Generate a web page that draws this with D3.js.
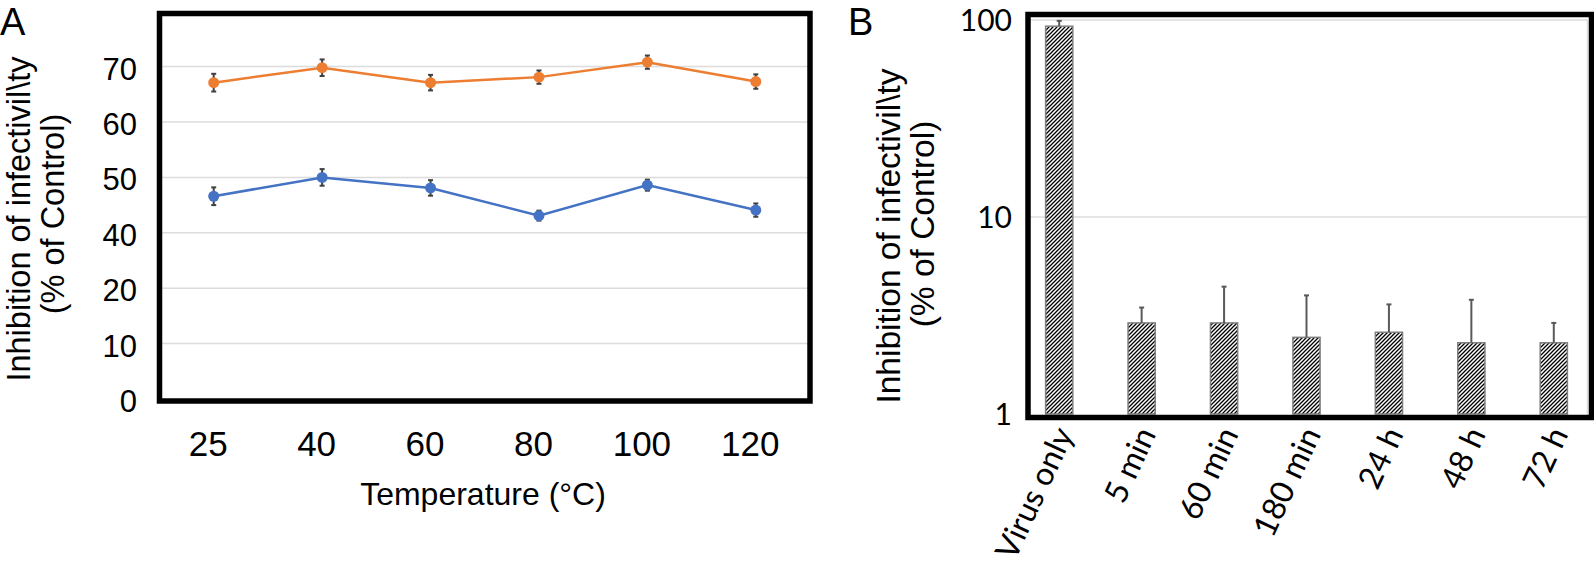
<!DOCTYPE html>
<html>
<head>
<meta charset="utf-8">
<script src="https://cdn.jsdelivr.net/npm/d3@7"></script>
<style>
  body { margin: 0; background: #fff; }
  svg { display: block; }
  text { fill: #000; }
</style>
</head>
<body>
<div id="chart"></div>
<script>
// panel A: inhibition vs temperature
var temps = ["25", "40", "60", "80", "100", "120"];
var orangeVals = [67.1, 69.8, 67.1, 68.1, 70.8, 67.3];
var orangeErr = [1.6, 1.5, 1.4, 1.2, 1.2, 1.3];
var blueVals = [46.6, 50.0, 48.1, 43.1, 48.6, 44.1];
var blueErr = [1.6, 1.5, 1.4, 0.9, 1.0, 1.2];
var yTicksA = [0, 10, 20, 40, 50, 60, 70];

// panel B: inhibition over time (log axis)
var times = ["Virus only", "5 min", "60 min", "180 min", "24 h", "48 h", "72 h"];
var timeVals = [93, 2.9, 2.9, 2.45, 2.6, 2.3, 2.3];
var timeErr = [6, 0.57, 1.53, 1.55, 1.0, 1.5, 0.6];
var yTicksB = [1, 10, 100];

var W = 1594, H = 575;
var svg = d3.select("#chart").append("svg").attr("width", W).attr("height", H);
svg.append("rect").attr("width", W).attr("height", H).attr("fill", "#fff");

var defs = svg.append("defs");
var pat = defs.append("pattern").attr("id", "hatch")
  .attr("patternUnits", "userSpaceOnUse").attr("width", 4).attr("height", 4);
pat.append("rect").attr("width", 4).attr("height", 4).attr("fill", "#fff");
pat.append("path").attr("d", "M-1,1 l2,-2 M0,4 l4,-4 M3,5 l2,-2")
  .attr("stroke", "#000").attr("stroke-width", 1.3);

var arial = "'Liberation Sans', Arial, sans-serif";
var lato = "Lato, 'Liberation Sans', sans-serif";

// ---------- panel A ----------
var A = {left: 159.5, top: 13.5, right: 810, bottom: 401};
var xA = d3.scalePoint().domain(temps).range([A.left, A.right]).padding(0.5);
// broken axis: the 30 step is skipped, each label is one even step apart
var yDomA = [0, 10, 20, 40, 50, 60, 70, 80];
var yA = d3.scaleLinear().domain(yDomA).range(yDomA.map(function (d, i) { return 399 - i * 55.4; }));

var gA = svg.append("g");
gA.selectAll(".gridA").data(yTicksA.filter(function (d) { return d > 0; })).enter()
  .append("line").attr("x1", A.left).attr("x2", A.right)
  .attr("y1", function (d) { return yA(d); }).attr("y2", function (d) { return yA(d); })
  .attr("stroke", "#dcdcdc").attr("stroke-width", 1.5);

var axYA = gA.append("g").attr("transform", "translate(" + 140 + ",0)")
  .call(d3.axisLeft(yA).tickValues(yTicksA).tickSize(0).tickPadding(3));
axYA.select(".domain").remove();
axYA.selectAll("text").attr("font-family", arial).attr("font-size", 31).attr("dy", "0.4em");

var axXA = gA.append("g").attr("transform", "translate(-6," + 423 + ")")
  .call(d3.axisBottom(xA).tickSize(0).tickPadding(0));
axXA.select(".domain").remove();
axXA.selectAll("text").attr("font-family", arial).attr("font-size", 35).attr("dy", "0.95em");

gA.append("text").attr("x", 483).attr("y", 505).attr("text-anchor", "middle")
  .attr("font-family", arial).attr("font-size", 32).text("Temperature (\u00B0C)");

gA.append("text").attr("transform", "translate(30,219) rotate(-90)").attr("text-anchor", "middle")
  .attr("font-family", arial).attr("font-size", 32.5).text("Inhibition of infectivil\\ty");
gA.append("text").attr("transform", "translate(64,214) rotate(-90)").attr("text-anchor", "middle")
  .attr("font-family", arial).attr("font-size", 32.5).text("(% of Control)");

gA.append("text").attr("x", 0).attr("y", 35).attr("font-family", arial).attr("font-size", 38).text("A");

function drawSeries(vals, errs, color) {
  var pts = temps.map(function (t, i) { return {t: t, v: vals[i], e: errs[i]}; });
  var line = d3.line().x(function (d) { return xA(d.t); }).y(function (d) { return yA(d.v); });
  gA.append("path").datum(pts).attr("d", line).attr("fill", "none")
    .attr("stroke", color).attr("stroke-width", 2.5);
  var eb = gA.selectAll(null).data(pts).enter().append("g").attr("stroke", "#404040").attr("stroke-width", 2);
  eb.append("line").attr("x1", function (d) { return xA(d.t); }).attr("x2", function (d) { return xA(d.t); })
    .attr("y1", function (d) { return yA(d.v + d.e); }).attr("y2", function (d) { return yA(d.v - d.e); });
  [1, -1].forEach(function (s) {
    eb.append("line").attr("x1", function (d) { return xA(d.t) - 2.5; }).attr("x2", function (d) { return xA(d.t) + 2.5; })
      .attr("y1", function (d) { return yA(d.v + s * d.e); }).attr("y2", function (d) { return yA(d.v + s * d.e); });
  });
  gA.selectAll(null).data(pts).enter().append("circle")
    .attr("cx", function (d) { return xA(d.t); }).attr("cy", function (d) { return yA(d.v); })
    .attr("r", 5.5).attr("fill", color);
}
drawSeries(orangeVals, orangeErr, "#ED7D31");
drawSeries(blueVals, blueErr, "#4472C4");

gA.append("rect").attr("x", A.left).attr("y", A.top).attr("width", A.right - A.left).attr("height", A.bottom - A.top)
  .attr("fill", "none").attr("stroke", "#000").attr("stroke-width", 5.5);

// ---------- panel B ----------
var B = {left: 1028, top: 14.5, right: 1591.5, bottom: 417.5};
var xB = d3.scaleBand().domain(times).range([1018, 1595]).paddingInner(0.67).paddingOuter(0.335);
var yB = d3.scaleLog().domain([1, 100]).range([414, 20]);

var gB = svg.append("g");
gB.selectAll(".gridB").data([10, 100]).enter().append("line")
  .attr("x1", B.left).attr("x2", B.right - 4)
  .attr("y1", function (d) { return yB(d); }).attr("y2", function (d) { return yB(d); })
  .attr("stroke", "#dcdcdc").attr("stroke-width", 1.5);
gB.append("line").attr("x1", B.right - 4).attr("x2", B.right - 4).attr("y1", yB(100)).attr("y2", B.bottom)
  .attr("stroke", "#dcdcdc").attr("stroke-width", 1.5);

var axYB = gB.append("g").attr("transform", "translate(1012,0)")
  .call(d3.axisLeft(yB).tickValues(yTicksB).tickFormat(d3.format("d")).tickSize(0).tickPadding(0));
axYB.select(".domain").remove();
axYB.selectAll("text").attr("font-family", lato).attr("font-size", 30).attr("dy", "0.35em");

gB.selectAll(".bar").data(times).enter().append("rect")
  .attr("x", function (d) { return xB(d); }).attr("width", xB.bandwidth())
  .attr("y", function (d, i) { return yB(timeVals[i]); })
  .attr("height", function (d, i) { return yB(1) - yB(timeVals[i]); })
  .attr("fill", "url(#hatch)").attr("stroke", "#808080").attr("stroke-width", 1.5);

var ebB = gB.selectAll(".errB").data(times).enter().append("g").attr("stroke", "#595959").attr("stroke-width", 2);
ebB.append("line")
  .attr("x1", function (d) { return xB(d) + xB.bandwidth() / 2; }).attr("x2", function (d) { return xB(d) + xB.bandwidth() / 2; })
  .attr("y1", function (d, i) { return yB(timeVals[i]); }).attr("y2", function (d, i) { return yB(timeVals[i] + timeErr[i]); });
ebB.append("line")
  .attr("x1", function (d) { return xB(d) + xB.bandwidth() / 2 - 2.5; }).attr("x2", function (d) { return xB(d) + xB.bandwidth() / 2 + 2.5; })
  .attr("y1", function (d, i) { return yB(timeVals[i] + timeErr[i]); }).attr("y2", function (d, i) { return yB(timeVals[i] + timeErr[i]); });

gB.selectAll(".xlabB").data(times).enter().append("text")
  .attr("transform", function (d) { return "translate(" + (xB(d) + xB.bandwidth() / 2 + 15) + ",434) rotate(-65)"; })
  .attr("text-anchor", "end").attr("font-family", lato).attr("font-size", 32).text(function (d) { return d; });

gB.append("text").attr("transform", "translate(900,236) rotate(-90)").attr("text-anchor", "middle")
  .attr("font-family", arial).attr("font-size", 33.5).text("Inhibition of infectivil\\ty");
gB.append("text").attr("transform", "translate(934,224) rotate(-90)").attr("text-anchor", "middle")
  .attr("font-family", arial).attr("font-size", 33.5).text("(% of Control)");

gB.append("text").attr("x", 848).attr("y", 35).attr("font-family", arial).attr("font-size", 38).text("B");

gB.append("rect").attr("x", B.left).attr("y", B.top).attr("width", B.right - B.left).attr("height", B.bottom - B.top)
  .attr("fill", "none").attr("stroke", "#000").attr("stroke-width", 5.5);
</script>
</body>
</html>
